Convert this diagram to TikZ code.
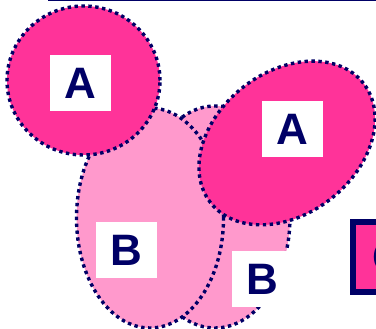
\documentclass[tikz,border=0pt]{standalone}
\usepackage{fontspec}
\setsansfont{Liberation Sans}
\usetikzlibrary{positioning,shapes.geometric}
\definecolor{navy}{HTML}{000066}
\definecolor{hotpink}{HTML}{FF3399}
\definecolor{softpink}{HTML}{FF99CC}

\begin{document}
\begin{tikzpicture}[x=1pt,y=1pt,
 blob/.style={ellipse,draw=navy,line width=3.4pt,dash pattern=on 3.4pt off 3.5pt,inner sep=0pt},
 blobA/.style={blob,fill=hotpink},blobB/.style={blob,fill=softpink},
 lab/.style={fill=white,text=navy,inner sep=0pt,minimum width=61pt,minimum height=56pt,
  font=\sffamily\bfseries\fontsize{44}{44}\selectfont}]
\useasboundingbox (0,0) rectangle (376,329);
\clip (0,0) rectangle (376,329);
\coordinate (rl) at (48,328.4);\coordinate (rr) at (376,328.4);
\draw[navy,line width=1.8pt] (rl)--(rr);
\node[blobB,minimum width=150pt,minimum height=222pt] (b2) at (215,112) {};
\node[blobB,minimum width=147pt,minimum height=220pt] (b1) at (150,111) {};
\node[blobA,minimum width=153pt,minimum height=149pt] (a1) at (83.5,248.5) {};
\node[blobA,minimum width=194pt,minimum height=142pt,rotate=38] (a2) at (287,186) {};
\node[lab] (la1) at (80.5,246) {A};
\node[lab] (la2) at (292.5,200) {A};
\node[lab] (lb1) at (126.5,79) {B};
\node[lab] (lb2) at (262.5,49.5) {B};
\node[draw=navy,fill=hotpink,line width=6pt,inner sep=0pt,minimum width=70pt,minimum height=70pt,
 text=navy,font=\sffamily\bfseries\fontsize{44}{44}\selectfont] (c) at (388,72) {C};
\end{tikzpicture}
\end{document}
